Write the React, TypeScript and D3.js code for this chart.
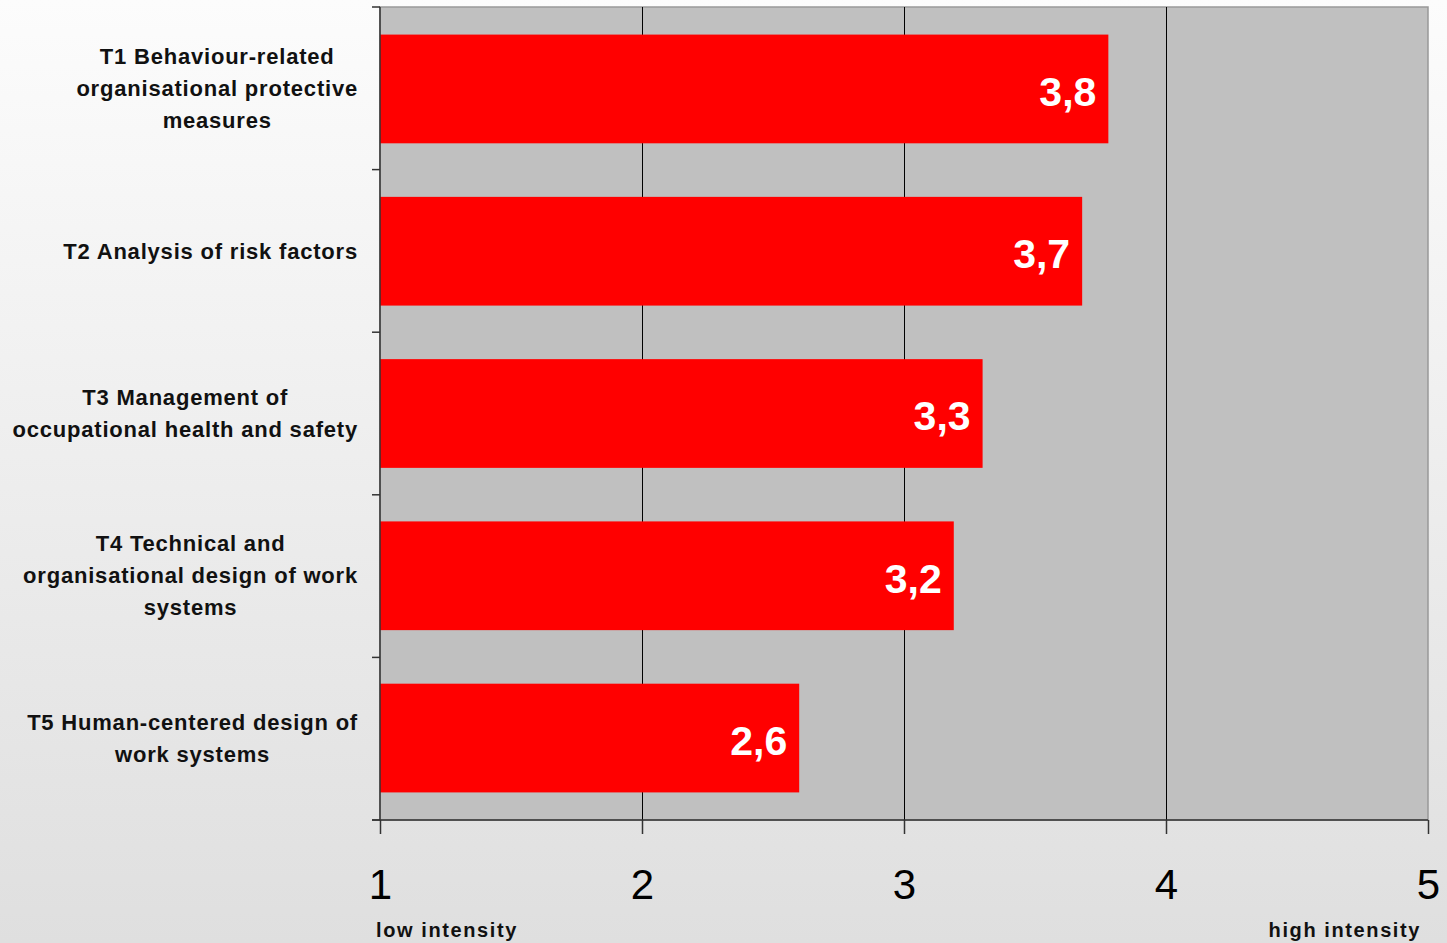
import { useRef, useEffect } from "react";
import * as d3 from "d3";

const categories: string[][] = [
  ["T1 Behaviour-related", "organisational protective", "measures"],
  ["T2 Analysis of risk factors"],
  ["T3 Management of", "occupational health and safety"],
  ["T4 Technical and", "organisational design of work", "systems"],
  ["T5 Human-centered design of", "work systems"],
];
const values = [3.78, 3.68, 3.3, 3.19, 2.6];
const xTicks = [1, 2, 3, 4, 5];
const lowLabel = "low intensity";
const highLabel = "high intensity";

export default function App() {
  const svgRef = useRef<SVGSVGElement>(null);

  useEffect(() => {
    document.body.style.margin = "0";
    const svg = svgRef.current;
    if (!svg) return;

    const width = 1447;
    const height = 943;
    const margin = { top: 7, right: 19, bottom: 123, left: 380 };
    const innerW = width - margin.left - margin.right;
    const innerH = height - margin.top - margin.bottom;
    const font = "'Liberation Sans', Arial, sans-serif";

    const x = d3.scaleLinear().domain([1, 5]).range([0, innerW]);
    const y = d3
      .scaleBand<number>()
      .domain(d3.range(categories.length))
      .range([0, innerH])
      .paddingInner(0.33)
      .paddingOuter(0.17);

    const sel = d3.select(svg);
    sel.selectAll("*").remove();
    sel.attr("width", width).attr("height", height);

    // Background gradient
    const grad = sel
      .append("defs")
      .append("linearGradient")
      .attr("id", "bg")
      .attr("x1", 0)
      .attr("y1", 0)
      .attr("x2", 0)
      .attr("y2", 1);
    grad.append("stop").attr("offset", "0%").attr("stop-color", "#fcfcfc");
    grad.append("stop").attr("offset", "100%").attr("stop-color", "#dfdfdf");
    sel.append("rect").attr("width", width).attr("height", height).attr("fill", "url(#bg)");

    const g = sel.append("g").attr("transform", `translate(${margin.left},${margin.top})`);

    // Plot area
    g.append("rect")
      .attr("width", innerW)
      .attr("height", innerH)
      .attr("fill", "#c0c0c0")
      .attr("stroke", "#999")
      .attr("stroke-width", 1.5);

    // Gridlines
    g.selectAll("line.grid")
      .data(xTicks.slice(1, -1))
      .join("line")
      .attr("class", "grid")
      .attr("x1", (d) => x(d))
      .attr("x2", (d) => x(d))
      .attr("y1", 0)
      .attr("y2", innerH)
      .attr("stroke", "#000")
      .attr("stroke-width", 1)
      .attr("shape-rendering", "crispEdges");

    // Bars
    g.selectAll("rect.bar")
      .data(values)
      .join("rect")
      .attr("class", "bar")
      .attr("x", 0)
      .attr("y", (_, i) => y(i)!)
      .attr("width", (d) => x(d))
      .attr("height", y.bandwidth())
      .attr("fill", "#ff0000");

    // Value labels
    g.selectAll("text.val")
      .data(values)
      .join("text")
      .attr("class", "val")
      .attr("x", (d) => x(d) - 12)
      .attr("y", (_, i) => y(i)! + y.bandwidth() / 2 + 2)
      .attr("dy", "0.36em")
      .attr("text-anchor", "end")
      .attr("fill", "#fff")
      .attr("font-family", font)
      .attr("font-weight", "bold")
      .attr("font-size", 41)
      .text((d) => d.toFixed(1).replace(".", ","));

    // Left axis
    const step = innerH / categories.length;
    g.append("line")
      .attr("x1", 0)
      .attr("x2", 0)
      .attr("y1", 0)
      .attr("y2", innerH)
      .attr("stroke", "#333")
      .attr("stroke-width", 1.5);
    g.selectAll("line.ytick")
      .data(d3.range(categories.length + 1))
      .join("line")
      .attr("class", "ytick")
      .attr("x1", -8)
      .attr("x2", 0)
      .attr("y1", (d) => d * step)
      .attr("y2", (d) => d * step)
      .attr("stroke", "#333")
      .attr("stroke-width", 1.5);

    // Bottom axis
    g.append("g")
      .attr("transform", `translate(0,${innerH})`)
      .call(d3.axisBottom(x).tickValues(xTicks).tickSize(14).tickPadding(35).tickFormat((d) => `${d}`))
      .call((a) => a.selectAll("line,path").attr("stroke", "#333").attr("stroke-width", 1.5))
      .call((a) => a.select(".domain").attr("d", `M-8,0H${innerW}`))
      .call((a) =>
        a
          .selectAll("text")
          .attr("fill", "#000")
          .attr("font-family", font)
          .attr("font-size", 42)
          .attr("dy", "0.71em")
      );

    // Intensity labels
    g.append("text")
      .attr("x", -4)
      .attr("y", innerH + 117)
      .attr("font-family", font)
      .attr("font-weight", "bold")
      .attr("font-size", 20)
      .attr("letter-spacing", 1.6)
      .attr("fill", "#111")
      .text(lowLabel);
    g.append("text")
      .attr("x", innerW - 7)
      .attr("y", innerH + 117)
      .attr("text-anchor", "end")
      .attr("font-family", font)
      .attr("font-weight", "bold")
      .attr("font-size", 20)
      .attr("letter-spacing", 1.6)
      .attr("fill", "#111")
      .text(highLabel);

    // Category labels: lines centered, longest line ending near the axis
    const lineH = 32;
    categories.forEach((lines, i) => {
      const cy = y(i)! + y.bandwidth() / 2;
      const t = g
        .append("text")
        .attr("font-family", font)
        .attr("font-weight", "bold")
        .attr("font-size", 22)
        .attr("letter-spacing", 0.8)
        .attr("fill", "#111")
        .attr("text-anchor", "middle");
      const spans = lines.map((l, j) =>
        t
          .append("tspan")
          .attr("y", cy + (j - (lines.length - 1) / 2) * lineH)
          .attr("dy", "0.34em")
          .text(l)
      );
      const maxW = d3.max(spans, (s) => (s.node() as SVGTSpanElement).getComputedTextLength()) ?? 0;
      spans.forEach((s) => s.attr("x", -22 - maxW / 2));
    });
  }, []);

  return <svg ref={svgRef} style={{ display: "block" }} />;
}
